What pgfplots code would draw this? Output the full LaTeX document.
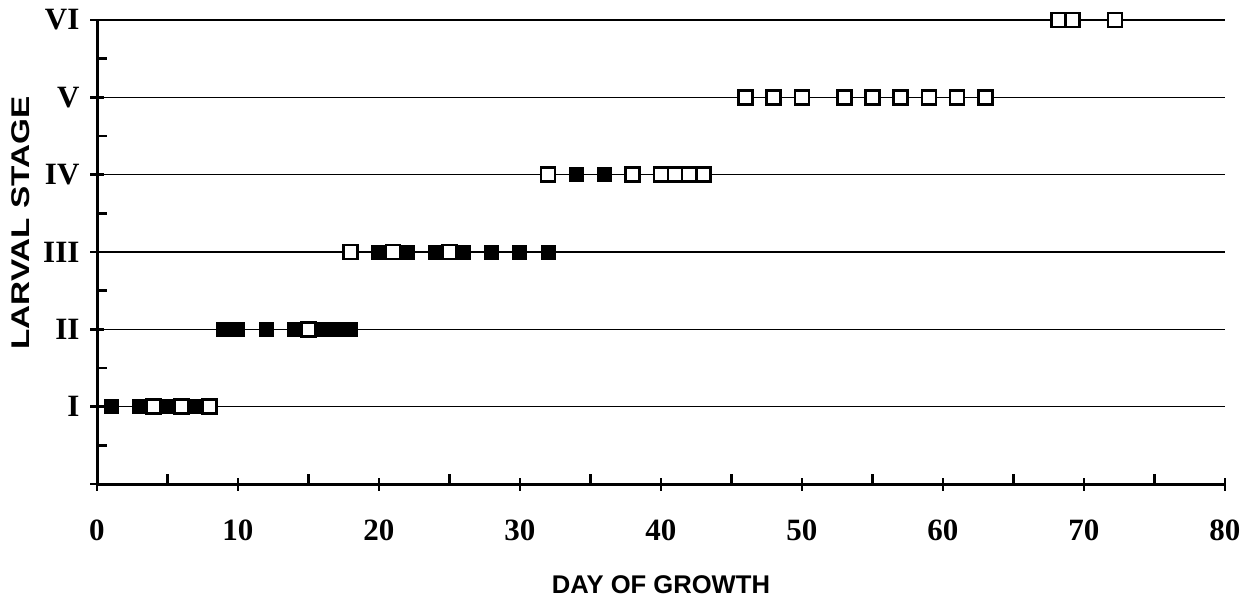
\documentclass[border=0pt]{standalone}
\usepackage{pgfplots}
\pgfplotsset{compat=1.18}
\usepackage{fontspec}
\setmainfont{Liberation Serif}
\newfontfamily\labfont{Liberation Sans}
\begin{document}
\begin{tikzpicture}
\path[use as bounding box] (-48.5pt,-58pt) rectangle (573pt,242pt);
\begin{axis}[
  scale only axis, width=564pt, height=232pt,
  xmin=0, xmax=80, ymin=0, ymax=6,
  axis x line=bottom, axis y line=left,
  axis line style={-, line width=1.5pt},
  xtick={0,10,...,80}, minor x tick num=1,
  ytick={0,1,...,6}, yticklabels={,I,II,III,IV,V,VI},
  minor y tick num=1,
  tick align=center,
  major tick length=6.5pt, minor tick length=5pt,
  every tick/.style={black, line width=1.3pt},
  minor x tick style={yshift=2.5pt},
  minor y tick style={xshift=2.5pt},
  ymajorgrids, grid style={black, line width=0.7pt},
  /pgf/number format/assume math mode=true,
  tick label style={font=\fontsize{15.5}{18}\selectfont\bfseries},
  xticklabel style={yshift=-11pt},
  yticklabel style={xshift=-2pt},
  every axis x label/.style={at={([yshift=-50.5pt]axis description cs:0.5,0)}, anchor=center},
  every axis y label/.style={at={([xshift=-38pt,yshift=14.5pt]axis description cs:0,0.5)}, rotate=90, anchor=center},
  label style={font=\labfont\fontsize{12.8}{15}\selectfont\bfseries},
  xlabel={DAY OF GROWTH}, ylabel={\scalebox{1.3}[1]{LARVAL STAGE}},
  clip=false,
]
% open markers
\addplot[only marks, mark=square*, mark size=3.5pt, mark options={fill=white, draw=black, line width=1.3pt}] coordinates {
 (4,1) (6,1) (8,1)
 (15,2)
 (18,3) (21,3) (25,3)
 (32,4) (38,4) (40,4) (41,4) (42,4) (43,4)
 (46,5) (48,5) (50,5) (53,5) (55,5) (57,5) (59,5) (61,5) (63,5)
 (68.2,6) (69.2,6) (72.2,6)
};
% filled markers
\addplot[only marks, mark=square*, mark size=3.5pt, mark options={fill=black, draw=black, line width=0.5pt}] coordinates {
 (1,1) (3,1) (5,1) (7,1)
 (9,2) (10,2) (12,2) (14,2) (16,2) (17,2) (18,2)
 (20,3) (22,3) (24,3) (26,3) (28,3) (30,3) (32,3)
 (34,4) (36,4)
};
\end{axis}
\end{tikzpicture}
\end{document}
